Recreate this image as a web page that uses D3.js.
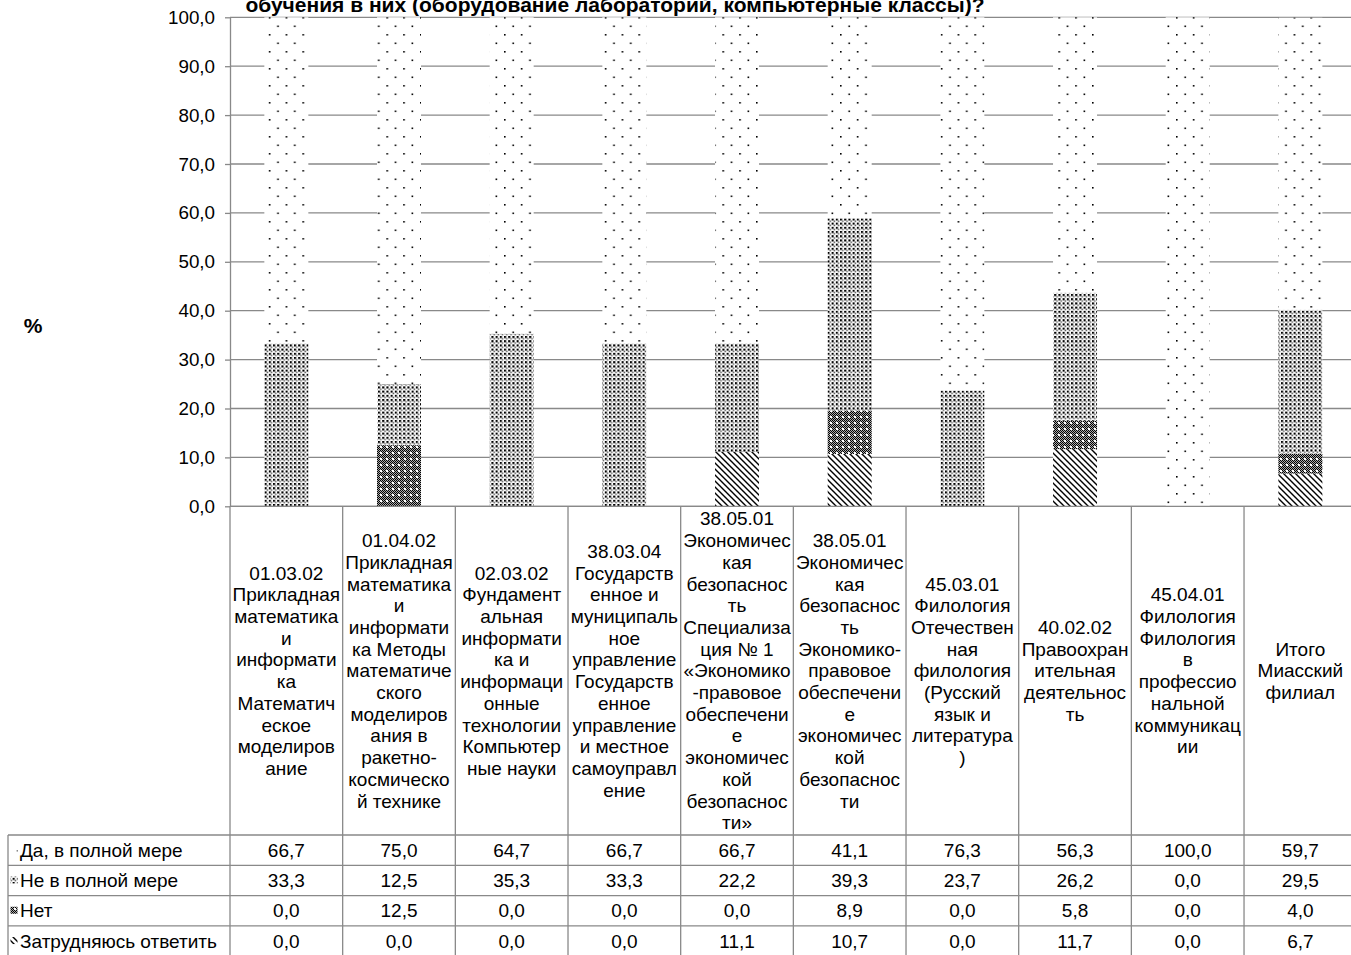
<!DOCTYPE html>
<html><head><meta charset="utf-8">
<script src="https://cdn.jsdelivr.net/npm/d3@7"></script>
<style>
html,body{margin:0;padding:0;background:#fff;overflow:hidden}
svg{display:block;font-family:"Liberation Sans",Arial,sans-serif}
</style></head>
<body>
<svg id="c" width="1351" height="955"></svg>
<script>
const categories = [
  "01.03.02\nПрикладная\nматематика\nи\nинформати\nка\nМатематич\nеское\nмоделиров\nание",
  "01.04.02\nПрикладная\nматематика\nи\nинформати\nка Методы\nматематиче\nского\nмоделиров\nания в\nракетно-\nкосмическо\nй технике",
  "02.03.02\nФундамент\nальная\nинформати\nка и\nинформаци\nонные\nтехнологии\nКомпьютер\nные науки",
  "38.03.04\nГосударств\nенное и\nмуниципаль\nное\nуправление\nГосударств\nенное\nуправление\nи местное\nсамоуправл\nение",
  "38.05.01\nЭкономичес\nкая\nбезопаснос\nть\nСпециализа\nция № 1\n«Экономико\n-правовое\nобеспечени\nе\nэкономичес\nкой\nбезопаснос\nти»",
  "38.05.01\nЭкономичес\nкая\nбезопаснос\nть\nЭкономико-\nправовое\nобеспечени\nе\nэкономичес\nкой\nбезопаснос\nти",
  "45.03.01\nФилология\nОтечествен\nная\nфилология\n(Русский\nязык и\nлитература\n)",
  "40.02.02\nПравоохран\nительная\nдеятельнос\nть",
  "45.04.01\nФилология\nФилология\nв\nпрофессио\nнальной\nкоммуникац\nии",
  "Итого\nМиасский\nфилиал"
];
const seriesNames = ["Да, в полной мере", "Не в полной мере", "Нет", "Затрудняюсь ответить"];
const yesValues    = [66.7, 75.0, 64.7, 66.7, 66.7, 41.1, 76.3, 56.3, 100.0, 59.7];
const partlyValues = [33.3, 12.5, 35.3, 33.3, 22.2, 39.3, 23.7, 26.2, 0.0, 29.5];
const noValues     = [0.0, 12.5, 0.0, 0.0, 0.0, 8.9, 0.0, 5.8, 0.0, 4.0];
const unsureValues = [0.0, 0.0, 0.0, 0.0, 11.1, 10.7, 0.0, 11.7, 0.0, 6.7];
const yTicks = [0, 10, 20, 30, 40, 50, 60, 70, 80, 90, 100];
const titleText = "обучения в них (оборудование лабораторий, компьютерные классы)?";
const yAxisLabel = "%";

const seriesValues = [yesValues, partlyValues, noValues, unsureValues];
const keys = ["yes", "partly", "no", "unsure"];
const rows = categories.map((c, i) => ({i, yes: yesValues[i], partly: partlyValues[i], no: noValues[i], unsure: unsureValues[i]}));

const svg = d3.select("#c");
const FONT = 19;
const grid = "#898989";

// patterns
const defs = svg.append("defs");
function pat(id, w, h, build) {
  const p = defs.append("pattern").attr("id", id).attr("patternUnits", "userSpaceOnUse")
    .attr("width", w).attr("height", h);
  p.append("rect").attr("width", w).attr("height", h).attr("fill", "#fff");
  build(p);
}
pat("p-yes", 16.8, 17, p => {
  p.append("rect").attr("x", 0).attr("y", 0).attr("width", 1.6).attr("height", 1.6).attr("fill", "#000");
  p.append("rect").attr("x", 8.4).attr("y", 8.5).attr("width", 1.6).attr("height", 1.6).attr("fill", "#000");
});
pat("p-partly", 4.2, 4.2, p => {
  p.append("rect").attr("x", 0).attr("y", 0).attr("width", 2.1).attr("height", 2.1).attr("fill", "#000");
  p.append("rect").attr("x", 2.1).attr("y", 2.1).attr("width", 1.5).attr("height", 1.5).attr("fill", "#555");
});
pat("p-no", 6, 6, p => {
  for (let yy = 0; yy < 6; yy++) for (let xx = 0; xx < 6; xx++) {
    p.append("rect").attr("x", xx).attr("y", yy).attr("width", 1).attr("height", 1)
      .attr("fill", (xx + yy) % 2 === 0 ? "#000" : "#aaa");
  }
  p.append("rect").attr("x", 2).attr("y", 2).attr("width", 2).attr("height", 2).attr("fill", "#fff");
});
pat("p-unsure", 6, 6, p => {
  p.append("path").attr("d", "M-1,-1 L7,7 M-1,5 L1,7 M5,-1 L7,1").attr("stroke", "#000").attr("stroke-width", 1.4);
});
const patFor = {yes: "url(#p-yes)", partly: "url(#p-partly)", no: "url(#p-no)", unsure: "url(#p-unsure)"};

// scales
const left = 230, colW = 112.67;
const x = d3.scaleBand().domain(d3.range(categories.length)).range([left, left + colW * categories.length]).padding(0);
const y = d3.scaleLinear().domain([0, 100]).range([506.3, 17.3]);
const right = 1351;
const barW = 44;

// gridlines
svg.append("g").selectAll("line").data(yTicks).join("line")
  .attr("x1", left).attr("x2", right).attr("y1", d => y(d)).attr("y2", d => y(d))
  .attr("stroke", grid).attr("stroke-width", 1.3);

// stacked bars
const stack = d3.stack().keys(["unsure", "no", "partly", "yes"]);
const layers = stack(rows);
svg.append("g").selectAll("g").data(layers).join("g")
  .attr("fill", d => patFor[d.key])
  .selectAll("rect").data(d => d).join("rect")
  .attr("x", d => x(d.data.i) + x.bandwidth() / 2 - barW / 2)
  .attr("width", barW)
  .attr("y", d => y(d[1]))
  .attr("height", d => Math.max(0, y(d[0]) - y(d[1])));

// y axis
const yAxis = d3.axisLeft(y).tickValues(yTicks)
  .tickFormat(d => d.toFixed(1).replace(".", ","))
  .tickSizeInner(5).tickSizeOuter(0).tickPadding(10);
const ga = svg.append("g").attr("transform", `translate(${left},0)`).call(yAxis);
ga.select(".domain").attr("stroke", grid).attr("stroke-width", 1.3);
ga.selectAll(".tick line").attr("stroke", grid).attr("stroke-width", 1.3);
ga.selectAll(".tick text").attr("font-size", 18.8).attr("fill", "#000")
  .attr("font-family", "'Liberation Sans', Arial, sans-serif");

// axis label
svg.append("text").attr("x", 33).attr("y", 333).attr("text-anchor", "middle")
  .attr("font-size", 21).attr("font-weight", "bold").text(yAxisLabel);

// title (partly clipped at top, as in the reference)
svg.append("text").attr("x", 615).attr("y", 12).attr("text-anchor", "middle")
  .attr("font-size", 21).attr("font-weight", "bold").text(titleText);

// data table
const tableTop = 506.3, headBottom = 835, rowH = 30.3, tableLeft = 8;
const tg = svg.append("g");
tg.append("line").attr("x1", left).attr("x2", right).attr("y1", tableTop).attr("y2", tableTop)
  .attr("stroke", grid).attr("stroke-width", 1.3);
d3.range(seriesNames.length).forEach(r => {
  const yy = headBottom + r * rowH;
  tg.append("line").attr("x1", tableLeft).attr("x2", right).attr("y1", yy).attr("y2", yy)
    .attr("stroke", grid).attr("stroke-width", 1.3);
});
tg.append("line").attr("x1", tableLeft).attr("x2", tableLeft).attr("y1", headBottom).attr("y2", 955)
  .attr("stroke", grid).attr("stroke-width", 1.3);
d3.range(categories.length + 1).forEach(i => {
  const xx = left + i * colW;
  tg.append("line").attr("x1", xx).attr("x2", xx).attr("y1", tableTop).attr("y2", 955)
    .attr("stroke", grid).attr("stroke-width", 1.3);
});
const lineH = 21.7;
categories.forEach((c, i) => {
  const lines = c.split("\n");
  const cy = (tableTop + headBottom) / 2;
  const y0 = cy - (lines.length - 1) * lineH / 2;
  const t = tg.append("text").attr("text-anchor", "middle").attr("font-size", FONT)
    .attr("x", x(i) + x.bandwidth() / 2);
  lines.forEach((l, k) => t.append("tspan").attr("x", x(i) + x.bandwidth() / 2)
    .attr("y", y0 + k * lineH).attr("dy", "0.35em").text(l));
});
seriesNames.forEach((name, r) => {
  const cy = headBottom + r * rowH + rowH / 2;
  tg.append("rect").attr("x", 10.5).attr("y", cy - 4).attr("width", 7).attr("height", 7)
    .attr("fill", patFor[keys[r]]);
  tg.append("text").attr("x", 20).attr("y", cy).attr("dy", "0.35em").attr("font-size", FONT).text(name);
  seriesValues[r].forEach((v, i) => {
    tg.append("text").attr("x", x(i) + x.bandwidth() / 2).attr("y", cy).attr("dy", "0.35em")
      .attr("text-anchor", "middle").attr("font-size", FONT).text(v.toFixed(1).replace(".", ","));
  });
});
</script>
</body></html>
